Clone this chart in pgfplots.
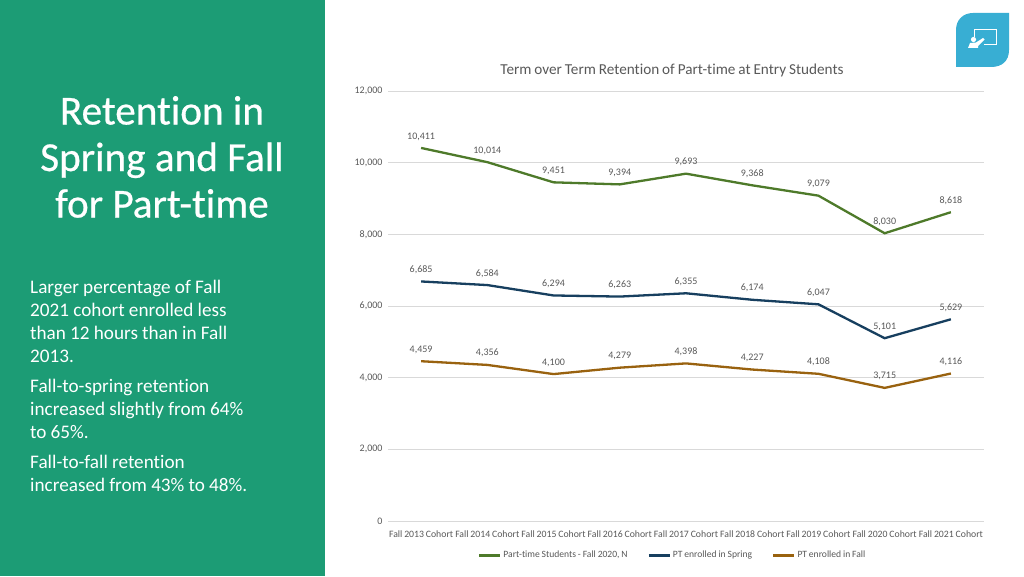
\documentclass[border=0pt]{standalone}
\usepackage{fontspec}
\setmainfont{Carlito}[Ligatures=NoCommon,WordSpace=0.85]
\newfontfamily\titlefont{Carlito}[Ligatures=NoCommon,FakeBold=0.6]
\usepackage{pgfplots}
\pgfplotsset{compat=1.18}
\definecolor{panel}{HTML}{1C9C75}
\definecolor{iconblue}{HTML}{38AED3}
\definecolor{lgreen}{HTML}{4E7A2A}
\definecolor{lnavy}{HTML}{173F5F}
\definecolor{lbrown}{HTML}{99620F}
\definecolor{txt}{HTML}{595959}
\begin{document}
\begin{tikzpicture}[x=1pt,y=1pt]
\path[use as bounding box,fill=white] (0,0) rectangle (1024,576);
\fill[panel] (0,0) rectangle (324.5,576);
\node[text=white,align=center,font=\titlefont\fontsize{41.2}{46.5}\selectfont,anchor=center] at (162,419) {Retention in\\Spring and Fall\\for Part-time};
\node[text=white,align=left,anchor=north west,text width=235pt,inner sep=0pt,font=\fontsize{19.2}{23}\selectfont] at (30,296) {\spaceskip=4.2pt\relax Larger percentage of Fall\\2021 cohort enrolled less\\than 12 hours than in Fall\\2013.\\[7pt]Fall-to-spring retention\\increased slightly from 64\%\\to 65\%.\\[7pt]Fall-to-fall retention\\increased from 43\% to 48\%.};
% icon
\fill[iconblue] (973,563) -- (1009,563) -- (1009,526) .. controls (1009,515) and (1002,509) .. (991,509) -- (956,509) -- (956,546) .. controls (956,556) and (963,563) .. (973,563) -- cycle;
\draw[white,line width=1pt] (974,539) -- (974,546) -- (996,546) -- (996,531) -- (984,531);
\fill[white] (973.5,536.5) circle (2.6);
\fill[white] (968,528) -- (970,533) -- (976,533.5) -- (983,538) -- (984.5,536.5) -- (978,530) -- (978,528) -- cycle;
\begin{axis}[
  at={(388pt,55pt)},anchor=south west,
  scale only axis,width=596pt,height=430pt,
  xmin=-0.5,xmax=8.5,ymin=0,ymax=12000,
  clip=false,
  axis line style={draw=none},
  axis x line*=bottom,
  axis y line*=left,
  xtick={0,...,8},
  xticklabels={Fall 2013 Cohort,Fall 2014 Cohort,Fall 2015 Cohort,Fall 2016 Cohort,Fall 2017 Cohort,Fall 2018 Cohort,Fall 2019 Cohort,Fall 2020 Cohort,Fall 2021 Cohort},
  ytick={0,2000,...,12000},
  scaled y ticks=false,
  major tick length=0pt,
  ymajorgrids,
  grid style={draw=black!15,line width=0.8pt},
  tick label style={font=\fontsize{10}{11}\selectfont,text=txt},
  xticklabel style={inner sep=0pt,yshift=-10pt,font=\fontsize{9.75}{11}\selectfont},
  yticklabel style={xshift=-2pt},
  /pgf/number format/assume math mode=true,
  /pgf/number format/.cd,1000 sep={,},fixed,precision=0,/tikz/.cd,
  title={Term over Term Retention of Part-time at Entry Students},
  title style={font=\fontsize{15.2}{16}\selectfont,text=txt,at={(0.4765,1)},anchor=south,yshift=8pt,inner sep=0pt},
  nodes near coords,
  nodes near coords style={font=\fontsize{10}{11}\selectfont,text=txt,anchor=south,yshift=5.5pt,inner sep=1pt,/pgf/number format/assume math mode=true},
  legend columns=3,
  legend style={at={(axis cs:3.80,-960)},anchor=center,draw=none,fill=none,font=\fontsize{9.6}{11}\selectfont,text=txt,inner sep=0pt,
    /tikz/every even column/.style={column sep=18pt}},
  legend image code/.code={\draw[#1,line width=2.3pt] (0pt,0pt) -- (21pt,0pt);},
  legend cell align=left,
  every axis plot/.append style={line width=2.3pt},
]
\addplot[lgreen,no marks] coordinates {(0,10411)(1,10014)(2,9451)(3,9394)(4,9693)(5,9368)(6,9079)(7,8030)(8,8618)};
\addlegendentry{Part-time Students - Fall 2020, N}
\addplot[lnavy,no marks] coordinates {(0,6685)(1,6584)(2,6294)(3,6263)(4,6355)(5,6174)(6,6047)(7,5101)(8,5629)};
\addlegendentry{PT enrolled in Spring}
\addplot[lbrown,no marks] coordinates {(0,4459)(1,4356)(2,4100)(3,4279)(4,4398)(5,4227)(6,4108)(7,3715)(8,4116)};
\addlegendentry{PT enrolled in Fall}
\end{axis}
\end{tikzpicture}
\end{document}
